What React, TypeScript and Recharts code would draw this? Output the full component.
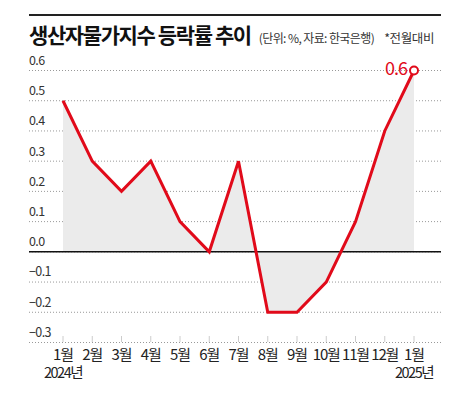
import React from "react";
import {
  ComposedChart,
  Area,
  Line,
  XAxis,
  YAxis,
  CartesianGrid,
  ReferenceLine,
} from "recharts";

const months = ["1월", "2월", "3월", "4월", "5월", "6월", "7월", "8월", "9월", "10월", "11월", "12월", "1월"];
const years = ["2024년", "", "", "", "", "", "", "", "", "", "", "", "2025년"];
const changes = [0.5, 0.3, 0.2, 0.3, 0.1, 0.0, 0.3, -0.2, -0.2, -0.1, 0.1, 0.4, 0.6];
const yTicks = [-0.3, -0.2, -0.1, 0.0, 0.1, 0.2, 0.3, 0.4, 0.5, 0.6];

const data = months.map((m, i) => ({ month: m + "-" + i, label: m, year: years[i], value: changes[i] }));

const FONT = "'Noto Sans CJK KR', 'Noto Sans', sans-serif";
const RED = "#e10a1a";

function fmt(v: number) {
  const s = Math.abs(v).toFixed(1);
  return v < 0 ? "\u2212" + s : s;
}

function YTick(props: any) {
  const { x, y, payload } = props;
  return (
    <text x={x} y={y - 9} textAnchor="start" dominantBaseline="middle" fontSize={12.5} fill="#333" fontFamily={FONT} letterSpacing={-0.6}>
      {fmt(payload.value)}
    </text>
  );
}

function XTick(props: any) {
  const { x, y, payload, index } = props;
  const d = data[index];
  return (
    <g>
      <line x1={x} x2={x} y1={y - 6} y2={y} stroke="#999" strokeDasharray="1 1" />
      <text x={x} y={y + 13} textAnchor="middle" dominantBaseline="middle" fontSize={15} fill="#222" fontFamily={FONT} letterSpacing={-1.1}>
        {d ? d.label : payload.value}
      </text>
      {d && d.year ? (
        <text x={x} y={y + 32} textAnchor="middle" dominantBaseline="middle" fontSize={14.5} fill="#222" fontFamily={FONT} letterSpacing={-1.5}>
          {d.year}
        </text>
      ) : null}
    </g>
  );
}

function LastDot(props: any) {
  const { cx, cy, index, value } = props;
  if (index !== changes.length - 1) return <g key={index} />;
  return (
    <g key={index}>
      <text x={cx - 7} y={cy} textAnchor="end" dominantBaseline="middle" fontSize={18} fill={RED} fontFamily={FONT} letterSpacing={-1}>
        {fmt(Array.isArray(value) ? value[1] : value)}
      </text>
      <circle cx={cx} cy={cy} r={4} fill="#fff" stroke={RED} strokeWidth={2} />
    </g>
  );
}

export default function App() {
  return (
    <div style={{ position: "absolute", left: 0, top: 0, width: 464, height: 394, background: "#fff", fontFamily: FONT }}>
      <div style={{ position: "absolute", left: 29, top: 14, width: 412, height: 2, background: "#222" }} />
      <div style={{ position: "absolute", left: 29, top: 19, whiteSpace: "nowrap", display: "flex", alignItems: "baseline" }}>
        <span style={{ fontSize: 21, fontWeight: 700, color: "#111", letterSpacing: -1.4 }}>생산자물가지수 등락률 추이</span>
        <span style={{ fontSize: 12, color: "#333", marginLeft: 8, letterSpacing: -0.6 }}>(단위: %, 자료: 한국은행)</span>
        <span style={{ fontSize: 12.5, color: "#333", marginLeft: 10, letterSpacing: -0.4 }}>*전월대비</span>
      </div>
      <ComposedChart
        width={464}
        height={394}
        data={data}
        margin={{ top: 70.5, right: 23, bottom: 0, left: 0 }}
        style={{ position: "absolute", left: 0, top: 0 }}
      >
        <CartesianGrid vertical={false} stroke="#999" strokeDasharray="1 2" />
        <XAxis
          dataKey="month"
          scale="point"
          padding={{ left: 34, right: 27 }}
          interval={0}
          axisLine={false}
          tickLine={false}
          tickSize={0}
          tickMargin={0}
          height={51.5}
          tick={<XTick />}
        />
        <YAxis
          domain={[-0.3, 0.6]}
          ticks={yTicks}
          width={29}
          axisLine={false}
          tickLine={false}
          tickSize={0}
          tickMargin={0}
          interval={0}
          tick={<YTick />}
        />
        <Area dataKey="value" type="linear" fill="#ebebeb" fillOpacity={1} stroke="none" isAnimationActive={false} />
        <ReferenceLine y={0.6} stroke="#999" strokeDasharray="1 2" ifOverflow="visible" />
        <ReferenceLine y={0} stroke="#111" strokeWidth={1.5} />
        <Line dataKey="value" type="linear" stroke={RED} strokeWidth={3} dot={LastDot} activeDot={false} isAnimationActive={false} />
      </ComposedChart>
    </div>
  );
}
